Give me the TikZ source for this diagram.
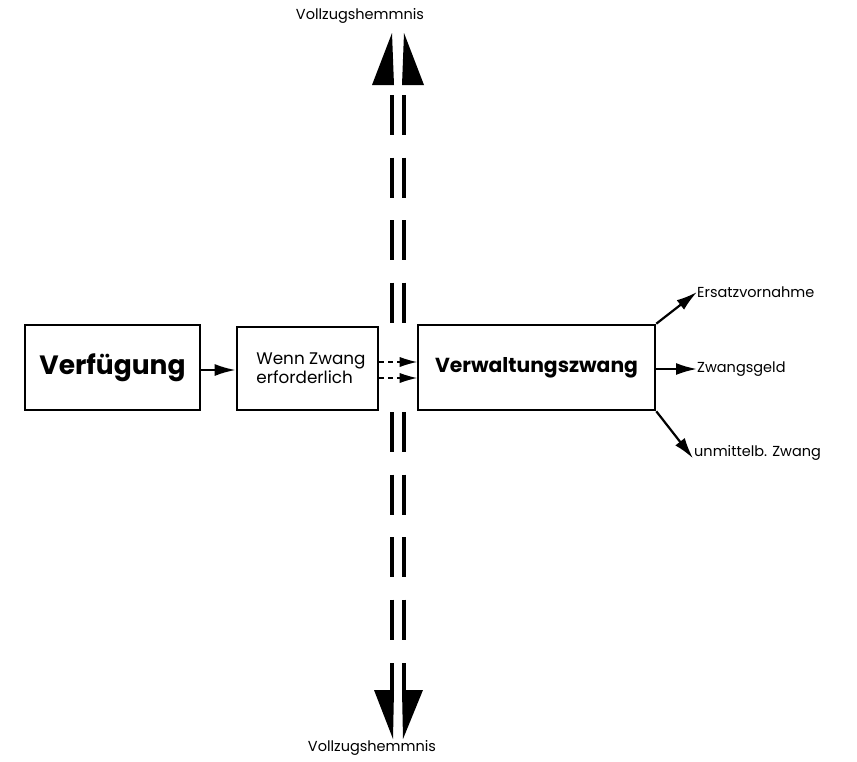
\documentclass[tikz,border=0pt]{standalone}
\usepackage{fontspec}
\setmainfont{Poppins}
\usetikzlibrary{arrows.meta}
\begin{document}
\begin{tikzpicture}[x=1pt,y=-1pt,
  box/.style={draw,line width=2.6pt,inner sep=0pt},
  conn/.style={line width=2.2pt,-{Latex[length=21pt,width=12pt]}},
  dconn/.style={line width=2pt,dash pattern=on 5pt off 4pt,-{Latex[length=17pt,width=10pt,line width=0pt]}},
  rail/.style={line width=4pt,dash pattern=on 40pt off 22.5pt},
  label/.style={font=\fontsize{14.5}{16}\selectfont,inner sep=0pt},
  bigtxt/.style={font=\fontsize{26.5}{30}\selectfont\bfseries}]
\useasboundingbox (0,0) rectangle (857,761);

% main boxes
\node[box,minimum width=175pt,minimum height=85pt,bigtxt] (verf) at (112.5,367.5) {Verfügung};
\node[box,minimum width=141pt,minimum height=83pt] (wenn) at (307.5,368.5) {};
\node[align=left,font=\fontsize{16.8}{19}\selectfont,inner sep=0pt] (wenntxt) at (311,368.5) {Wenn Zwang\\erforderlich};
\node[box,minimum width=237pt,minimum height=85pt,font=\fontsize{20.3}{23}\selectfont\bfseries] (vz) at (536.5,367.5) {Verwaltungszwang};

% outcome labels
\node[label,anchor=west] (ers) at (697,292) {Ersatzvornahme};
\node[label,anchor=west] (geld) at (697,369) {Zwangsgeld};
\node[label,anchor=west] (umz) at (694,453) {unmittelb. Zwang};

% top and bottom labels
\node[label] (vtop) at (360,16) {Vollzugshemmnis};
\node[label] (vbot) at (372,748) {Vollzugshemmnis};

% connectors
\draw[conn] (verf.east |- 0,370) -- (wenn.west |- 0,370);
\draw[dconn] (wenn.east |- 0,362) -- (vz.west |- 0,362);
\draw[dconn] (wenn.east |- 0,378) -- (vz.west |- 0,378);
\draw[conn] (vz.north east) -- (ers.west);
\draw[conn] (vz.east |- geld.west) -- (geld.west);
\draw[conn] (vz.south east) -- ([xshift=-1pt,yshift=-13pt]umz.north west);

% the two dashed rails of the obstruction
\coordinate (la) at (392,95);  \coordinate (lb) at (392,325);
\coordinate (ra) at (404,95);  \coordinate (rb) at (404,325);
\coordinate (lc) at (392,412); \coordinate (ld) at (392,645);
\coordinate (rc) at (404,412); \coordinate (rd) at (404,645);
\draw[rail] (la) -- (lb);
\draw[rail] (ra) -- (rb);
\draw[rail] (lc) -- (ld);
\draw[rail] (rc) -- (rd);
\draw[line width=4pt] (392,663) -- (392,692);
\draw[line width=4pt] (404,663) -- (404,692);

% split arrowheads at both ends
\fill (372,85) -- (394,85) -- (392,33) -- cycle;
\fill (402,85) -- (424,85) -- (404,33) -- cycle;
\fill (374,690) -- (394,690) -- (393,739) -- cycle;
\fill (402,690) -- (423,690) -- (403,739) -- cycle;
\end{tikzpicture}
\end{document}
